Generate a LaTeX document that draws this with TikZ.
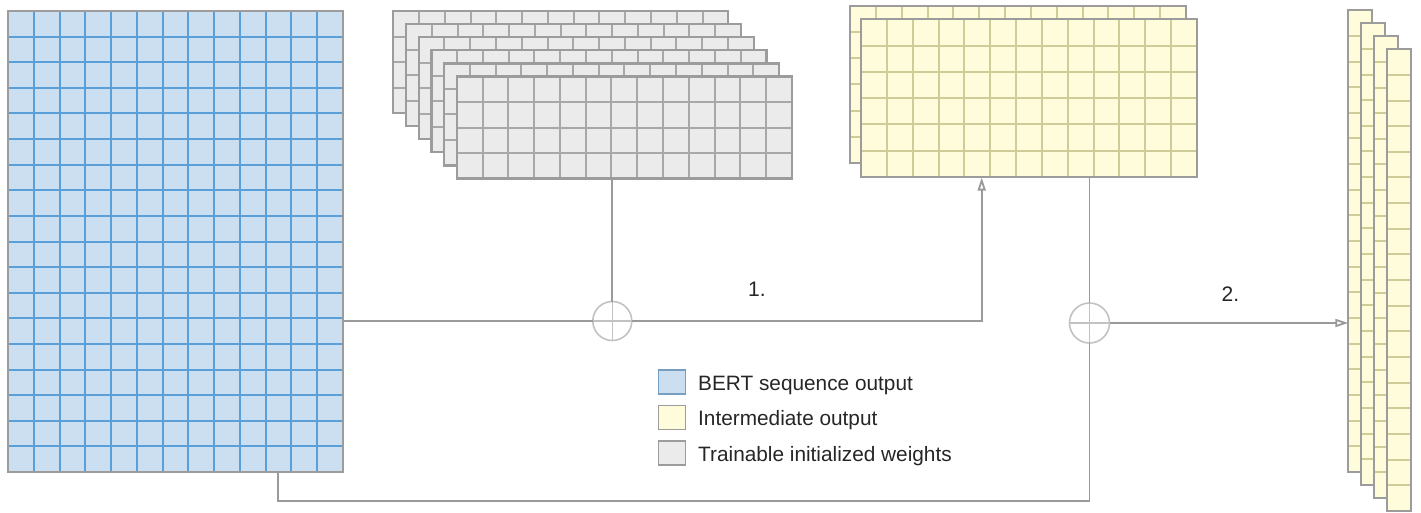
\documentclass[tikz,border=0pt]{standalone}
\usepackage{fontspec}
\setmainfont{Liberation Sans}
\usetikzlibrary{arrows.meta,calc}
\definecolor{bluefill}{HTML}{CCDFF0}
\definecolor{blueline}{HTML}{5B9FD8}
\definecolor{grayfill}{HTML}{EBEBEB}
\definecolor{grayline}{HTML}{A8A8A8}
\definecolor{yelfill}{HTML}{FEFCDA}
\definecolor{yelline}{HTML}{CFCC98}
\definecolor{bordercol}{HTML}{9C9C9C}
\definecolor{conn}{HTML}{9A9A9A}
\definecolor{circ}{HTML}{C2C2C2}
\tikzset{
  matbox/.style={rectangle, inner sep=0pt, outer sep=0pt, anchor=north west},
  gridln/.style={line width=2pt},
  matborder/.style={draw=bordercol, line width=2.2pt},
  connline/.style={draw=conn, line width=1.8pt},
  arrowline/.style={connline, -{Triangle[open, length=13pt, width=8pt]}},
  pluscirc/.style={circle, draw=circ, line width=1.6pt, minimum size=39pt, inner sep=0pt, outer sep=0pt,
    path picture={\draw[circ, line width=1.5pt] (path picture bounding box.north) -- (path picture bounding box.south)
      (path picture bounding box.west) -- (path picture bounding box.east);}},
  legsq/.style={rectangle, draw=bordercol, line width=1.6pt, minimum width=27pt, minimum height=24pt, inner sep=0pt, anchor=north west},
  legtxt/.style={anchor=base west, inner sep=0pt, font=\fontsize{20.8pt}{24pt}\selectfont, text=black!85},
  numtxt/.style={anchor=base west, inner sep=0pt, font=\fontsize{21pt}{24pt}\selectfont, text=black!85}
}
\newcommand\gridmat[9]{%
  \node[matbox, fill=#8, minimum width=#4pt, minimum height=#5pt] (#1) at (#2,#3) {};
  \pgfmathtruncatemacro\gmc{#6-1}%
  \pgfmathtruncatemacro\gmr{#7-1}%
  \ifnum\gmc>0 \foreach \i in {1,...,\gmc} {\draw[gridln,#9] (#2+\i*#4/#6,#3) -- ++(0,#5);}\fi
  \ifnum\gmr>0 \foreach \j in {1,...,\gmr} {\draw[gridln,#9] (#2,#3+\j*#5/#7) -- ++(#4,0);}\fi
  \draw[matborder] (#1.north west) rectangle (#1.south east);
}
\begin{document}
\begin{tikzpicture}[x=1pt, y=-1pt]
\useasboundingbox (0,0) rectangle (1421,512);
% BERT sequence output
\gridmat{bert}{8}{11}{335}{461}{13}{18}{bluefill}{blueline}
% trainable weights stack
\foreach \k in {0,...,5} {
  \gridmat{w\k}{393.3+12.7*\k}{11+13.1*\k}{335}{102}{13}{4}{grayfill}{grayline}
}
% intermediate output stack
\foreach \k in {0,1} {
  \gridmat{y\k}{850+11*\k}{5.7+13.6*\k}{336}{157.5}{13}{6}{yelfill}{yelline}
}
% final output stack
\foreach \k in {0,...,3} {
  \gridmat{r\k}{1348.3+12.8*\k}{10.3+13*\k}{24}{461.5}{1}{18}{yelfill}{yelline}
}
% sum nodes
\node[pluscirc] (c1) at (612.3,321) {};
\node[pluscirc, minimum size=40pt] (c2) at (1089.5,323) {};
% connector coordinates
\coordinate (a1) at (981.7,177.5);
\coordinate (b1) at (278,472);
\coordinate (b2) at (1089.5,501);
% connectors
\draw[connline] (bert.east |- c1) -- (c1.west);
\draw[connline] (c1.north |- w5.south) -- (c1.north);
\draw[arrowline] (c1.east) -| (a1);
\draw[connline] (c2.north |- y1.south) -- (c2.north);
\draw[connline] (b1) |- (b2) -- (c2.south);
\draw[arrowline] (c2.east) -- (c2.east -| r0.west);
% step labels
\node[numtxt] (n1) at (748,296) {1.};
\node[numtxt] (n2) at (1221.5,301) {2.};
% legend
\node[legsq, fill=bluefill, draw=blueline!60!bordercol] (l1) at (657.5,369) {};
\node[legsq, fill=yelfill] (l2) at (657.5,404.5) {};
\node[legsq, fill=grayfill] (l3) at (657.5,440) {};
\node[legtxt] (t1) at (698,390) {BERT sequence output};
\node[legtxt] (t2) at (698,425.5) {Intermediate output};
\node[legtxt] (t3) at (698,461) {Trainable initialized weights};
\end{tikzpicture}
\end{document}
